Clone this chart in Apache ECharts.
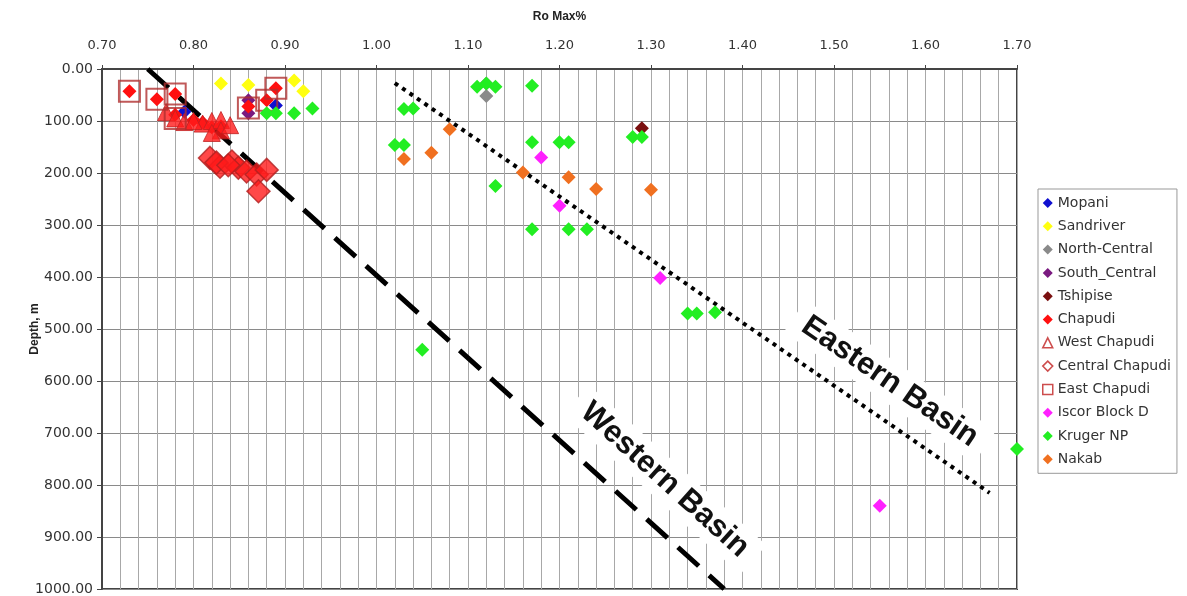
<!DOCTYPE html>
<html><head><meta charset="utf-8">
<script src="https://cdn.jsdelivr.net/npm/echarts@6/dist/echarts.min.js"></script>
<style>html,body{margin:0;padding:0;background:#fff}#c{width:1187px;height:596px}</style>
</head><body><div id="c"></div>
<script>
// ---- data ----
const seriesNames = ['Mopani','Sandriver','North-Central','South_Central','Tshipise','Chapudi','West Chapudi','Central Chapudi','East Chapudi','Iscor Block D','Kruger NP','Nakab'];
const mopani = [[0.79,82],[0.89,70]];
const sandriver = [[0.83,28],[0.86,31],[0.91,22],[0.92,43]];
const northCentral = [[1.12,28],[1.12,52]];
const southCentral = [[0.86,60],[0.86,85]];
const tshipise = [[1.29,114]];
const chapudi = [[0.73,43],[0.76,58],[0.78,48],[0.86,72],[0.88,60],[0.89,37],[0.78,88],[0.80,98],[0.81,103],[0.83,110],[0.82,112]];
const westChapudi = [[0.77,83],[0.78,95],[0.79,102],[0.81,105],[0.82,100],[0.83,98],[0.83,118],[0.82,123],[0.80,100],[0.84,108]];
const centralChapudi = [[0.818,171],[0.829,188],[0.842,178],[0.849,190],[0.858,197],[0.869,203],[0.880,194],[0.871,235],[0.825,180],[0.838,185]];
const eastChapudi = [[0.73,43],[0.76,58],[0.78,48],[0.86,75],[0.88,60],[0.89,37],[0.78,95]];
const iscor = [[1.18,170],[1.20,263],[1.31,402],[1.55,840]];
const kruger = [[0.88,85],[0.89,85],[0.91,85],[0.93,76],[1.11,34],[1.12,28],[1.13,34],[1.17,32],[1.03,77],[1.04,76],[1.02,146],[1.03,146],[1.17,141],[1.20,141],[1.21,141],[1.28,131],[1.29,131],[1.13,225],[1.17,308],[1.21,308],[1.23,308],[1.34,470],[1.35,470],[1.37,468],[1.05,540],[1.70,731]];
const nakab = [[1.08,116],[1.06,161],[1.03,173],[1.16,199],[1.21,208],[1.24,231],[1.30,232]];
const westernLine = [[0.75,0],[1.38,1000]];
const easternLine = [[1.02,27],[1.67,815]];
const basinLabels = [{text:'Western Basin', at:[1.315,790], line:westernLine},{text:'Eastern Basin', at:[1.561,601], line:easternLine}];

const chart = echarts.init(document.getElementById('c'));
const font = 'DejaVu Sans, Arial, sans-serif';
const font2 = 'Liberation Sans, Arial, sans-serif';
function sc(name, data, color, opts) {
  return Object.assign({type:'scatter', name, data, symbol:'diamond', symbolSize:14,
    itemStyle:{color, opacity:1}, clip:false, z:3}, opts||{});
}
const series = [
  sc('Mopani', mopani, '#1010d0'),
  sc('Sandriver', sandriver, '#ffff10'),
  sc('North-Central', northCentral, '#8a8a8a'),
  sc('South_Central', southCentral, '#7a1a80'),
  sc('Tshipise', tshipise, '#7a1010'),
  sc('Chapudi', chapudi, '#ff1010'),
  sc('West Chapudi', westChapudi, '#ff1a1a', {symbol:'triangle', symbolSize:17, itemStyle:{color:'#ff1a1a', borderColor:'#c02020', borderWidth:1}}),
  sc('Central Chapudi', centralChapudi, '#ff1a1a', {symbolSize:23, itemStyle:{color:'#ff1a1a', borderColor:'#b02020', borderWidth:1.5}}),
  sc('East Chapudi', eastChapudi, 'rgba(0,0,0,0)', {symbol:'rect', symbolSize:21, itemStyle:{color:'rgba(255,255,255,0)', borderColor:'#b03030', borderWidth:2}}),
  sc('Iscor Block D', iscor, '#ff20ff'),
  sc('Kruger NP', kruger, '#22ee22'),
  sc('Nakab', nakab, '#f07020'),
  {type:'line', data:westernLine, symbol:'none', silent:true, z:2, lineStyle:{color:'#000', width:5, type:[28,14]}},
  {type:'line', data:easternLine, symbol:'none', silent:true, z:2, lineStyle:{color:'#000', width:4, type:[4,5]}}
];
const legendData = seriesNames.map(n => {
  if (n === 'West Chapudi') return {name:n, icon:'triangle', itemStyle:{color:'#fff', borderColor:'#c02020', borderWidth:1.5}};
  if (n === 'Central Chapudi') return {name:n, icon:'diamond', itemStyle:{color:'#fff', borderColor:'#c02020', borderWidth:1.5}};
  if (n === 'East Chapudi') return {name:n, icon:'rect', itemStyle:{color:'#fff', borderColor:'#c02020', borderWidth:1.5}};
  return {name:n, icon:'diamond'};
});
const gridColor = '#a8a8a8';
chart.setOption({
  animation:false,
  backgroundColor:'#fff',
  textStyle:{fontFamily:font},
  grid:{left:102, top:69, right:170, bottom:6, show:true, borderColor:'#444', borderWidth:2},
  legend:{orient:'vertical', left:1038, top:189, data:legendData, itemWidth:10, itemHeight:10, itemGap:9.3,
    padding:[7,6,7,4], borderColor:'#999', borderWidth:1, textStyle:{fontSize:14, color:'#333', fontFamily:font}},
  xAxis:{type:'value', position:'top', min:0.7, max:1.7, interval:0.1,
    name:'Ro Max%', nameLocation:'middle', nameGap:46, nameMoveOverlap:false, nameTextStyle:{fontSize:12, fontWeight:'bold', color:'#222', fontFamily:font2}},
  yAxis:{type:'value', inverse:true, min:0, max:1000, interval:100,
    name:'Depth, m', nameLocation:'middle', nameGap:61, nameMoveOverlap:false, nameRotate:90, nameTextStyle:{fontSize:12, fontWeight:'bold', color:'#222', fontFamily:font2}},
  series
});
chart.setOption({
  xAxis:{axisLine:{show:true, lineStyle:{color:'#444', width:2}}, axisTick:{show:true, length:4, lineStyle:{color:'#444'}},
    axisLabel:{margin:17, fontSize:13, color:'#333', formatter:v=>v.toFixed(2)},
    splitLine:{show:true, lineStyle:{color:gridColor, width:1}},
    minorTick:{show:false, splitNumber:5}, minorSplitLine:{show:true, lineStyle:{color:gridColor, width:1}}},
  yAxis:{axisLine:{show:true, lineStyle:{color:'#444', width:2}}, axisTick:{show:true, length:5, lineStyle:{color:'#444'}},
    axisLabel:{margin:9, fontSize:14, color:'#333', formatter:v=>v.toFixed(2)},
    splitLine:{show:true, lineStyle:{color:'#8a8a8a', width:1}}}
});
function addLabels() {
  const g = basinLabels.map(b => {
    const p = chart.convertToPixel({gridIndex:0}, b.at);
    const a = chart.convertToPixel({gridIndex:0}, b.line[0]);
    const c = chart.convertToPixel({gridIndex:0}, b.line[1]);
    const ang = Math.atan2(c[1]-a[1], c[0]-a[0]);
    return {type:'text', x:p[0], y:p[1], rotation:-ang, z:10,
      style:{text:b.text, fontSize:31, fontWeight:'bold', fontFamily:font2, fill:'#111',
        align:'center', verticalAlign:'middle', backgroundColor:'#fff', padding:[4,12]}};
  });
  chart.setOption({graphic:g});
}
addLabels();
</script></body></html>
